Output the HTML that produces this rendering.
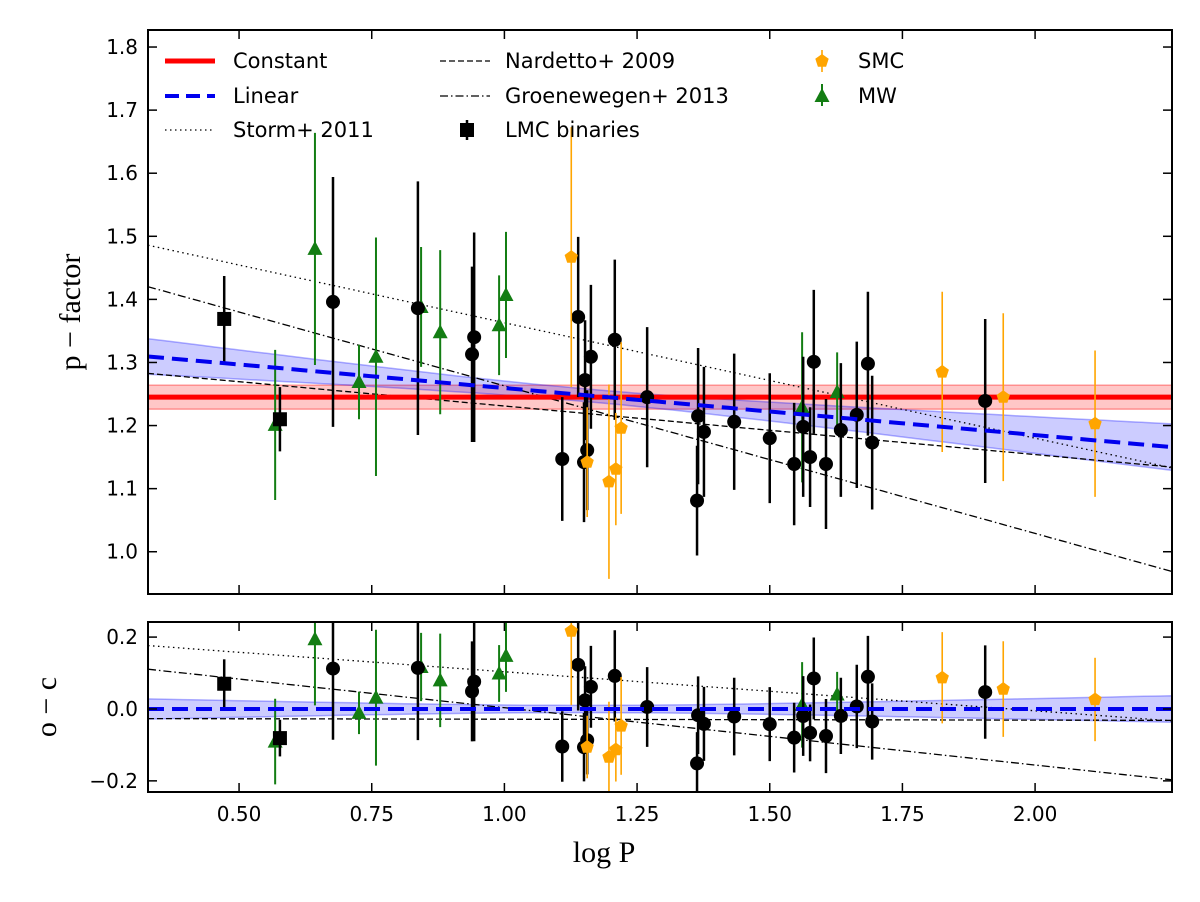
<!DOCTYPE html>
<html><head><meta charset="utf-8"><style>
body{margin:0;background:#fff;}
svg{display:block;font-family:"DejaVu Sans","Liberation Sans",sans-serif;}
</style></head><body>
<svg id="chart" width="1200" height="902" xmlns="http://www.w3.org/2000/svg">
<defs>
<clipPath id="clipTop"><rect x="148" y="30" width="1024" height="564"/></clipPath>
<clipPath id="clipBot"><rect x="148" y="622" width="1024" height="170"/></clipPath>
</defs>
<g id="topG" clip-path="url(#clipTop)"></g>
<g id="botG" clip-path="url(#clipBot)"></g>
<g id="axes"></g>
</svg>
<script>
// ---- data ----
const lmcBinLogP = [0.472, 0.577];
const lmcBinP    = [1.369, 1.210];
const lmcBinErr  = [0.068, 0.051];
const mwLogP = [0.568,0.643,0.726,0.758,0.843,0.879,0.990,1.003,1.561,1.627];
const mwP    = [1.201,1.480,1.269,1.309,1.388,1.348,1.359,1.407,1.229,1.253];
const mwErr  = [0.119,0.184,0.059,0.189,0.095,0.130,0.079,0.100,0.119,0.063];
const lmcLogP = [0.677,0.837,0.943,0.939,1.109,1.139,1.152,1.156,1.150,1.163,1.208,1.269,1.365,1.376,1.363,1.433,1.500,1.546,1.563,1.576,1.583,1.606,1.634,1.664,1.685,1.693,1.906];
const lmcP    = [1.396,1.386,1.340,1.313,1.147,1.372,1.272,1.161,1.142,1.309,1.336,1.245,1.215,1.190,1.081,1.206,1.180,1.139,1.198,1.150,1.301,1.139,1.193,1.217,1.298,1.173,1.239];
const lmcErr  = [0.198,0.201,0.166,0.139,0.098,0.127,0.095,0.095,0.095,0.114,0.127,0.111,0.108,0.103,0.087,0.108,0.103,0.097,0.111,0.079,0.114,0.103,0.106,0.116,0.114,0.106,0.130];
const smcLogP = [1.126,1.156,1.197,1.210,1.220,1.825,1.940,2.113];
const smcP    = [1.467,1.142,1.111,1.131,1.196,1.285,1.245,1.203];
const smcErr  = [0.206,0.087,0.154,0.089,0.136,0.127,0.133,0.116];
const constP = 1.245, constErr = 0.019;
const linIntercept = 1.334, linSlope = -0.0745;
const storm = [1.546, -0.183];
const nardetto = [1.308, -0.077];
const groen = [1.497, -0.234];
const xTicks = [0.50,0.75,1.00,1.25,1.50,1.75,2.00];
const yTicksTop = [1.0,1.1,1.2,1.3,1.4,1.5,1.6,1.7,1.8];
const yTicksBot = [-0.2,0.0,0.2];

// ---- scales ----
const X0=148,X1=1172, XD=[0.3284,2.258];
const sx = v => X0 + (v-XD[0])/(XD[1]-XD[0])*(X1-X0);
const TY0=30,TY1=594, TD=[0.933,1.827];
const sy = v => TY1 - (v-TD[0])/(TD[1]-TD[0])*(TY1-TY0);
const BY0=622,BY1=792, BD=[-0.231,0.242];
const by = v => BY1 - (v-BD[0])/(BD[1]-BD[0])*(BY1-BY0);
const NS="http://www.w3.org/2000/svg";
function mk(parent,tag,attrs){const e=document.createElementNS(NS,tag);for(const k in attrs)e.setAttribute(k,attrs[k]);parent.appendChild(e);return e;}
const lin = lp => linIntercept + linSlope*lp;
const band = lp => Math.sqrt(0.01*0.01 + Math.pow(0.032*(lp-1.15),2));
const topG=document.getElementById('topG'), botG=document.getElementById('botG'), axes=document.getElementById('axes');

function linePath(f, ys){let d='';for(let i=0;i<=60;i++){const lp=XD[0]+(XD[1]-XD[0])*i/60;d+=(i?'L':'M')+sx(lp).toFixed(1)+','+ys(f(lp)).toFixed(1);}return d;}
function bandPath(fc, fw, ys){let up='',dn=[];for(let i=0;i<=60;i++){const lp=XD[0]+(XD[1]-XD[0])*i/60;up+=(i?'L':'M')+sx(lp).toFixed(1)+','+ys(fc(lp)+fw(lp)).toFixed(1);dn.push('L'+sx(lp).toFixed(1)+','+ys(fc(lp)-fw(lp)).toFixed(1));}return up+dn.reverse().join('')+'Z';}

function drawPanel(g, ys, resid){
  const off = resid ? lin : (()=>0);
  if(!resid){
    let e=mk(g,'rect',{x:X0,y:sy(constP+constErr),width:X1-X0,height:sy(constP-constErr)-sy(constP+constErr),fill:'rgba(255,0,0,0.22)',stroke:'rgba(255,0,0,0.35)','stroke-width':1.5});
    
    
  }
  let b=mk(g,'path',{d:bandPath(lp=>lin(lp)-off(lp),band,ys),fill:'rgba(0,0,255,0.2)',stroke:'rgba(0,0,255,0.3)','stroke-width':1.5});
  
  
  const lines=[[storm,'1.5 3.5','storm-2011-line'],[nardetto,'6 3','nardetto-2009-line'],[groen,'8 3 1.5 3','groenewegen-2013-line']];
  lines.forEach(([c,da,n])=>{
    const l=mk(g,'path',{d:linePath(lp=>c[0]+c[1]*lp-off(lp),ys),fill:'none',stroke:'#000','stroke-width':1.3,'stroke-dasharray':da});
    
    
  });
  if(!resid){
    const r=mk(g,'line',{x1:X0,x2:X1,y1:sy(constP),y2:sy(constP),stroke:'#ff0000','stroke-width':5});
    
    
  }
  function pts(LP,P,E,color,w,shape,name){
    LP.forEach((lp,i)=>{
      const x=sx(lp), v=P[i]-off(lp);
      const eb=mk(g,'line',{x1:x,x2:x,y1:ys(v+E[i]),y2:ys(v-E[i]),stroke:color,'stroke-width':w});
      
      
      const y=ys(v); let m;
      if(shape==='c') m=mk(g,'circle',{cx:x,cy:y,r:7,fill:color});
      else if(shape==='s') m=mk(g,'rect',{x:x-7,y:y-7,width:14,height:14,fill:color});
      else if(shape==='t') m=mk(g,'polygon',{points:`${x},${y-8} ${x-7.5},${y+6} ${x+7.5},${y+6}`,fill:color});
      else { let p=[];for(let k=0;k<5;k++){const a=-Math.PI/2+k*2*Math.PI/5;p.push((x+7*Math.cos(a)).toFixed(1)+','+(y+7*Math.sin(a)).toFixed(1));} m=mk(g,'polygon',{points:p.join(' '),fill:color}); }
      
      
    });
  }
  pts(mwLogP,mwP,mwErr,'#137d13',2,'t','mw');
  pts(lmcLogP,lmcP,lmcErr,'#000',2.5,'c','lmc');
  pts(lmcBinLogP,lmcBinP,lmcBinErr,'#000',2.5,'s','lmc-binary');
  pts(smcLogP,smcP,smcErr,'#ffa500',1.6,'p','smc');
  const bl=mk(g,'path',{d:linePath(lp=>lin(lp)-off(lp),ys),fill:'none',stroke:'#0000ee','stroke-width':4,'stroke-dasharray':'16 8'});
  
  
}
drawPanel(topG, sy, false);
drawPanel(botG, by, true);

// axes frames & ticks
[[TY0,TY1,'top'],[BY0,BY1,'bottom']].forEach(([a,b,n])=>{
  const f=mk(axes,'rect',{x:X0,y:a,width:X1-X0,height:b-a,fill:'none',stroke:'#000','stroke-width':2});
  
  
  xTicks.forEach(t=>{const x=sx(t);mk(axes,'line',{x1:x,x2:x,y1:b,y2:b-9,stroke:'#000','stroke-width':1.5});mk(axes,'line',{x1:x,x2:x,y1:a,y2:a+9,stroke:'#000','stroke-width':1.5});});
});
xTicks.forEach(t=>{
  const tx=mk(axes,'text',{x:sx(t),y:821,'text-anchor':'middle','font-size':20});
  tx.textContent=t.toFixed(2);
  
  
});
yTicksTop.forEach(t=>{
  const y=sy(t);
  mk(axes,'line',{x1:X0,x2:X0+9,y1:y,y2:y,stroke:'#000','stroke-width':1.5});
  mk(axes,'line',{x1:X1,x2:X1-9,y1:y,y2:y,stroke:'#000','stroke-width':1.5});
  const tx=mk(axes,'text',{x:138,y:y+7,'text-anchor':'end','font-size':20});
  tx.textContent=t.toFixed(1);
  
  
});
yTicksBot.forEach(t=>{
  const y=by(t);
  mk(axes,'line',{x1:X0,x2:X0+9,y1:y,y2:y,stroke:'#000','stroke-width':1.5});
  mk(axes,'line',{x1:X1,x2:X1-9,y1:y,y2:y,stroke:'#000','stroke-width':1.5});
  const tx=mk(axes,'text',{x:138,y:y+7,'text-anchor':'end','font-size':20});
  tx.textContent=(t<0?'\u2212':'')+Math.abs(t).toFixed(1);
  
  
});
</script>
<svg x="0" y="0" width="1200" height="902" style="position:absolute;left:0;top:0">
</svg>
<script>
const S=document.getElementById('chart');
function T(x,y,s,txt,name,extra){const e=document.createElementNS(NS,'text');e.setAttribute('x',x);e.setAttribute('y',y);e.setAttribute('font-size',s);for(const k in (extra||{}))e.setAttribute(k,extra[k]);e.textContent=txt;S.appendChild(e);return e;}
T(604,862,30,'log P','x-axis-title',{'text-anchor':'middle','font-family':'Liberation Serif, serif'});
T(80,312,30,'p \u2212 factor','y-axis-title',{'text-anchor':'middle','font-family':'Liberation Serif, serif',transform:'rotate(-90 80 312)'});
T(56,707,30,'o \u2212 c','residual-axis-title',{'text-anchor':'middle','font-family':'Liberation Serif, serif',transform:'rotate(-90 56 707)'});
const L=mk(S,'g',{});


mk(L,'line',{x1:165,x2:215,y1:61,y2:61,stroke:'#ff0000','stroke-width':5});
mk(L,'line',{x1:165,x2:215,y1:96,y2:96,stroke:'#0000ee','stroke-width':4,'stroke-dasharray':'14 7'});
mk(L,'line',{x1:165,x2:215,y1:130,y2:130,stroke:'#000','stroke-width':1.3,'stroke-dasharray':'1.5 3.5'});
mk(L,'line',{x1:440,x2:490,y1:61,y2:61,stroke:'#000','stroke-width':1.3,'stroke-dasharray':'6 3'});
mk(L,'line',{x1:440,x2:490,y1:96,y2:96,stroke:'#000','stroke-width':1.3,'stroke-dasharray':'8 3 1.5 3'});
mk(L,'line',{x1:467,x2:467,y1:120,y2:140,stroke:'#000','stroke-width':2.5});
mk(L,'rect',{x:460,y:123,width:14,height:14,fill:'#000'});
mk(L,'line',{x1:822,x2:822,y1:50,y2:72,stroke:'#ffa500','stroke-width':1.6});
mk(L,'polygon',{points:'822,54 828.7,58.8 826.1,66.7 817.9,66.7 815.3,58.8',fill:'#ffa500'});
mk(L,'line',{x1:822,x2:822,y1:84,y2:106,stroke:'#137d13','stroke-width':2});
mk(L,'polygon',{points:'822,88 814.5,102 829.5,102',fill:'#137d13'});
[[233,68,'Constant'],[233,103,'Linear'],[233,137,'Storm+ 2011'],[505,68,'Nardetto+ 2009'],[505,103,'Groenewegen+ 2013'],[505,137,'LMC binaries'],[858,68,'SMC'],[858,103,'MW']].forEach(([x,y,t])=>{
  T(x,y,21,t,'legend-label');
});
</script>
</body></html>
